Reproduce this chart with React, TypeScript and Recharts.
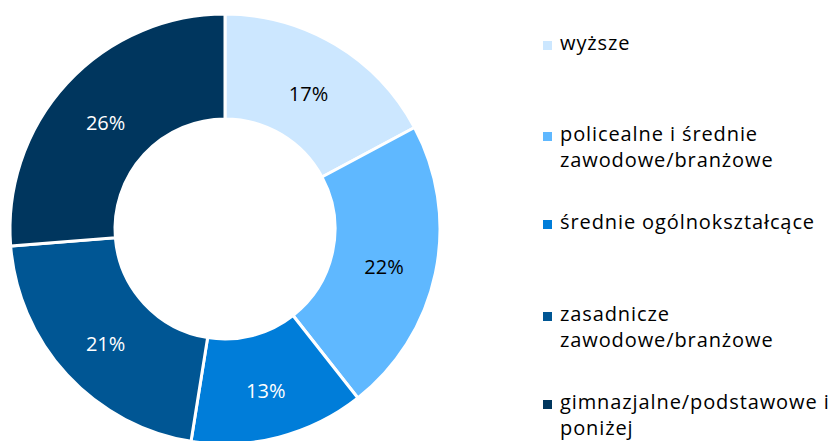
import { PieChart, Pie, Cell, Legend } from 'recharts'

const categories = [
  'wyższe',
  'policealne i średnie zawodowe/branżowe',
  'średnie ogólnokształcące',
  'zasadnicze zawodowe/branżowe',
  'gimnazjalne/podstawowe i poniżej',
]
// legend lines as broken in the source
const legendLines = [
  ['wyższe'],
  ['policealne i średnie', 'zawodowe/branżowe'],
  ['średnie ogólnokształcące'],
  ['zasadnicze', 'zawodowe/branżowe'],
  ['gimnazjalne/podstawowe i', 'poniżej'],
]
const shares = [17, 22, 13, 21, 26]
const COLORS = ['#cce7ff', '#5fb8ff', '#007dd9', '#005694', '#00365e']
const LABEL_COLORS = ['#000000', '#000000', '#ffffff', '#ffffff', '#ffffff']

const data = categories.map((name, i) => ({ name, value: shares[i] }))

const FONT = '"Open Sans", sans-serif'
const RAD = Math.PI / 180

const renderLabel = (props: any) => {
  const { cx, cy, midAngle, innerRadius, outerRadius, index, value } = props
  const r = (innerRadius + outerRadius) / 2
  const x = cx + r * Math.cos(-midAngle * RAD)
  const y = cy + r * Math.sin(-midAngle * RAD) + 4
  return (
    <text x={x} y={y} fill={LABEL_COLORS[index]} textAnchor="middle" dominantBaseline="central"
      fontSize={20} fontFamily={FONT}>
      {value}%
    </text>
  )
}

const renderLegend = () => {
  const tops = [32, 123, 211, 303, 391]
  return (
    <div style={{ position: 'relative', width: 290, height: 441, fontFamily: FONT, fontSize: 20, letterSpacing: 0.9, color: '#000' }}>
      {legendLines.map((lines, i) => (
        <div key={i} style={{ position: 'absolute', left: 0, top: tops[i], display: 'flex' }}>
          <div style={{ width: 9, height: 9, background: COLORS[i], marginTop: 9, marginRight: 8 }} />
          <div style={{ lineHeight: '26px', whiteSpace: 'nowrap', marginTop: -2 }}>
            {lines.map((l, j) => <div key={j}>{l}</div>)}
          </div>
        </div>
      ))}
    </div>
  )
}

export default function App() {
  return (
    <div style={{ position: 'absolute', left: 0, top: 0, width: 835, height: 441, overflow: 'hidden', background: '#fff' }}>
      <PieChart width={835} height={441} margin={{ top: 0, right: 0, bottom: 0, left: 0 }}>
        <Pie
          data={data}
          dataKey="value"
          nameKey="name"
          cx={225}
          cy={229}
          innerRadius={110}
          outerRadius={215}
          startAngle={90}
          endAngle={-270}
          stroke="#ffffff"
          strokeWidth={3}
          label={renderLabel}
          labelLine={false}
          isAnimationActive={false}
        >
          {data.map((entry, index) => (
            <Cell key={`cell-${index}`} fill={COLORS[index]} />
          ))}
        </Pie>
        <Legend
          content={renderLegend}
          wrapperStyle={{ position: 'absolute', left: 543, top: 0, width: 290, height: 441 }}
        />
      </PieChart>
    </div>
  )
}
